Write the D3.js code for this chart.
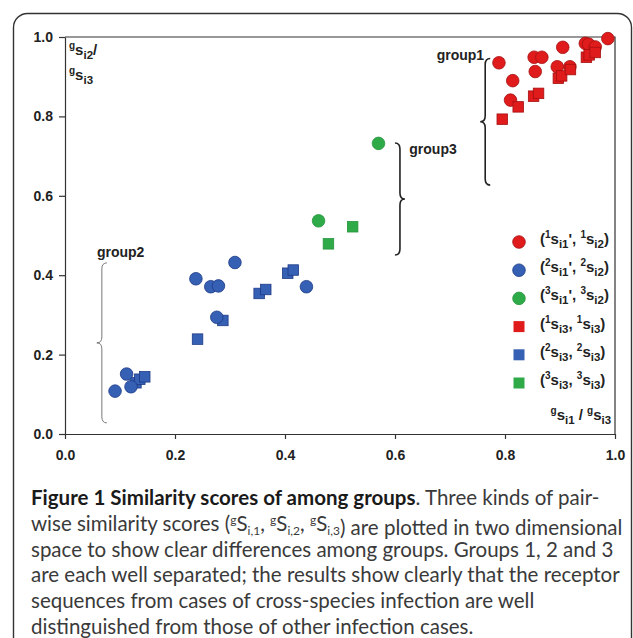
<!DOCTYPE html>
<html>
<head>
<meta charset="utf-8">
<script src="https://cdn.jsdelivr.net/npm/d3@7"></script>
<style>
  body { margin: 0; background: #fff; }
  .tick text { font-family: "Liberation Sans", Arial, sans-serif; font-weight: bold; font-size: 14px; fill: #222; }
  .lbl { font-family: "Liberation Sans", Arial, sans-serif; font-weight: bold; font-size: 14px; fill: #222; }
  .cap { font-family: Lato, "Open Sans", sans-serif; font-size: 20.5px; fill: #3a3a3a; }
</style>
</head>
<body>
<div id="chart"></div>
<script>
// Points, [x, y]
var redCircles = [[0.789, 0.935], [0.814, 0.890], [0.810, 0.841], [0.853, 0.949], [0.867, 0.949],
  [0.855, 0.913], [0.905, 0.974], [0.895, 0.925], [0.918, 0.925], [0.946, 0.984],
  [0.952, 0.982], [0.964, 0.975], [0.987, 0.996]];
var blueCircles = [[0.091, 0.108], [0.112, 0.151], [0.120, 0.119], [0.238, 0.391], [0.265, 0.371],
  [0.279, 0.373], [0.309, 0.432], [0.276, 0.294], [0.439, 0.371]];
var greenCircles = [[0.570, 0.732], [0.461, 0.537]];
var redSquares = [[0.795, 0.793], [0.824, 0.824], [0.852, 0.851], [0.861, 0.858], [0.897, 0.896],
  [0.903, 0.902], [0.919, 0.918], [0.948, 0.949], [0.953, 0.955], [0.964, 0.961]];
var blueSquares = [[0.129, 0.129], [0.136, 0.138], [0.145, 0.144], [0.241, 0.239], [0.287, 0.286],
  [0.353, 0.354], [0.365, 0.364], [0.405, 0.405], [0.415, 0.413]];
var greenSquares = [[0.479, 0.479], [0.523, 0.522]];

var xTicks = [0, 0.2, 0.4, 0.6, 0.8, 1.0];
var yTicks = [0, 0.2, 0.4, 0.6, 0.8, 1.0];

// legend rows: group number, shape, subscripts
var legendRows = [
  {g: "1", shape: "circle", a: "i1", b: "i2", sep: "',"},
  {g: "2", shape: "circle", a: "i1", b: "i2", sep: "',"},
  {g: "3", shape: "circle", a: "i1", b: "i2", sep: "',"},
  {g: "1", shape: "square", a: "i3", b: "i3", sep: ","},
  {g: "2", shape: "square", a: "i3", b: "i3", sep: ","},
  {g: "3", shape: "square", a: "i3", b: "i3", sep: ","}
];

// group braces: label, x, y top, y bottom (data units)
var braces = [
  {name: "group1", x: 0.764, y1: 0.946, y2: 0.627, dir: -1},
  {name: "group3", x: 0.609, y1: 0.733, y2: 0.451, dir: 1},
  {name: "group2", x: 0.067, y1: 0.431, y2: 0.028, dir: -1}
];

var captionBold = "Figure 1 Similarity scores of among groups";
var captionLines = [
  ". Three kinds of pair-",
  "wise similarity scores (",
  "space to show clear differences among groups. Groups 1, 2 and 3",
  "are each well separated; the results show clearly that the receptor",
  "sequences from cases of cross-species infection are well",
  "distinguished from those of other infection cases."
];

var colors = {
  "1": {fill: "#e01b1c", stroke: "#a50f10"},
  "2": {fill: "#3660b4", stroke: "#1c3a86"},
  "3": {fill: "#2eaa48", stroke: "#27953e"}
};

var W = 633, H = 638;
var margin = {left: 65, right: 18, top: 37, bottom: 204};

var svg = d3.select("#chart").append("svg")
  .attr("width", W).attr("height", H);

// outer frame
svg.append("rect")
  .attr("x", 13.5).attr("y", 13.5)
  .attr("width", 618).attr("height", 700)
  .attr("rx", 14)
  .attr("fill", "none").attr("stroke", "#333").attr("stroke-width", 1.4);

var x = d3.scaleLinear().domain([0, 1]).range([margin.left, W - margin.right]);
var y = d3.scaleLinear().domain([0, 1]).range([H - margin.bottom, margin.top]);

// box top / right
svg.append("path")
  .attr("d", "M" + x(0) + "," + y(1) + "H" + x(1) + "V" + y(0))
  .attr("fill", "none").attr("stroke", "#333").attr("stroke-width", 1.2);

var gx = svg.append("g")
  .attr("transform", "translate(0," + y(0) + ")")
  .call(d3.axisBottom(x).tickValues(xTicks).tickFormat(d3.format(".1f")).tickSize(5).tickSizeOuter(0));
gx.selectAll("text").attr("dy", "1.3em");

var gy = svg.append("g")
  .attr("transform", "translate(" + x(0) + ",0)")
  .call(d3.axisLeft(y).tickValues(yTicks).tickFormat(d3.format(".1f")).tickSize(6).tickSizeOuter(0));
gy.selectAll("text").attr("x", -12);

svg.selectAll(".domain, .tick line").attr("stroke", "#333").attr("stroke-width", 1.2);

// text with super/subscripts
function richText(sel, parts) {
  var lev = {n: 0, sup: -6, sub: 4};
  var prev = 0;
  parts.forEach(function(p) {
    var l = lev[p.s || "n"];
    var t = sel.append("tspan").attr("dy", l - prev).text(p.t);
    if (p.s) t.style("font-size", p.s == "sup" ? "10px" : "11.5px");
    prev = l;
  });
}

// axis titles
var yt1 = svg.append("text").attr("class", "lbl").attr("x", x(0) + 4).attr("y", y(0.955))
  .style("font-size", "15px");
richText(yt1, [{t: "g", s: "sup"}, {t: "s"}, {t: "i2", s: "sub"}, {t: "/"}]);
var yt2 = svg.append("text").attr("class", "lbl").attr("x", x(0) + 4).attr("y", y(0.892))
  .style("font-size", "15px");
richText(yt2, [{t: "g", s: "sup"}, {t: "s"}, {t: "i3", s: "sub"}]);
var xt = svg.append("text").attr("class", "lbl").attr("x", x(0.993)).attr("y", y(0.035))
  .attr("text-anchor", "end").style("font-size", "15px");
richText(xt, [{t: "g", s: "sup"}, {t: "s"}, {t: "i1", s: "sub"}, {t: " / "}, {t: "g", s: "sup"}, {t: "s"}, {t: "i3", s: "sub"}]);

// braces
function bracePath(b) {
  var bx = x(b.x), ya = y(b.y1), yb = y(b.y2), ym = (ya + yb) / 2;
  var w = 5, r = 6, d = b.dir;
  return "M" + (bx - d * w) + "," + ya +
    "Q" + bx + "," + ya + " " + bx + "," + (ya + r) +
    "L" + bx + "," + (ym - r) +
    "Q" + bx + "," + ym + " " + (bx + d * w) + "," + ym +
    "Q" + bx + "," + ym + " " + bx + "," + (ym + r) +
    "L" + bx + "," + (yb - r) +
    "Q" + bx + "," + yb + " " + (bx - d * w) + "," + yb;
}
svg.selectAll(".brace").data(braces).enter().append("path")
  .attr("class", "brace")
  .attr("d", bracePath)
  .attr("fill", "none")
  .attr("stroke", function(d) { return d.name == "group2" ? "#777" : "#222"; })
  .attr("stroke-width", function(d) { return d.name == "group2" ? 1 : 1.6; });

svg.append("text").attr("class", "lbl").attr("x", x(0.762)).attr("y", y(0.942))
  .attr("text-anchor", "end").text("group1");
svg.append("text").attr("class", "lbl").attr("x", x(0.626)).attr("y", y(0.705)).text("group3");
svg.append("text").attr("class", "lbl").attr("x", x(0.058)).attr("y", y(0.445)).text("group2");

// points
function drawCircles(data, g) {
  svg.selectAll(null).data(data).enter().append("circle")
    .attr("cx", function(d) { return x(d[0]); })
    .attr("cy", function(d) { return y(d[1]); })
    .attr("r", 6.3)
    .attr("fill", colors[g].fill).attr("stroke", colors[g].stroke).attr("stroke-width", 0.8);
}
function drawSquares(data, g) {
  var s = 10.5;
  svg.selectAll(null).data(data).enter().append("rect")
    .attr("x", function(d) { return x(d[0]) - s / 2; })
    .attr("y", function(d) { return y(d[1]) - s / 2; })
    .attr("width", s).attr("height", s)
    .attr("fill", colors[g].fill).attr("stroke", colors[g].stroke).attr("stroke-width", 0.8);
}
drawSquares(blueSquares, "2");
drawCircles(blueCircles, "2");
drawSquares(greenSquares, "3");
drawCircles(greenCircles, "3");
drawCircles(redCircles, "1");
drawSquares(redSquares, "1");

// legend
var ly = d3.scalePoint().domain(d3.range(legendRows.length)).range([242, 383]);
var leg = svg.selectAll(".leg").data(legendRows).enter().append("g")
  .attr("class", "leg")
  .attr("transform", function(d, i) { return "translate(519," + ly(i) + ")"; });
leg.each(function(d) {
  var g = d3.select(this);
  if (d.shape == "circle") {
    g.append("circle").attr("r", 6.3).attr("fill", colors[d.g].fill).attr("stroke", colors[d.g].stroke).attr("stroke-width", 0.8);
  } else {
    g.append("rect").attr("x", -5.5).attr("y", -5.5).attr("width", 11).attr("height", 11)
      .attr("fill", colors[d.g].fill);
  }
  var t = g.append("text").attr("class", "lbl").attr("x", 21).attr("y", 2).style("font-size", "15px");
  richText(t, [{t: "("}, {t: d.g, s: "sup"}, {t: "s"}, {t: d.a, s: "sub"}, {t: d.sep},
    {t: " "}, {t: d.g, s: "sup"}, {t: "s"}, {t: d.b, s: "sub"}, {t: ")"}]);
});

// caption
var capY = d3.scalePoint().domain(d3.range(6)).range([505, 634]);
var c0 = svg.append("text").attr("class", "cap").attr("x", 31).attr("y", capY(0));
c0.append("tspan").style("font-weight", "bold").attr("fill", "#1a1a1a").text(captionBold);
c0.append("tspan").text(captionLines[0]);

var c1 = svg.append("text").attr("class", "cap").attr("x", 31).attr("y", capY(1));
c1.append("tspan").text(captionLines[1]);
["1", "2", "3"].forEach(function(k, i) {
  c1.append("tspan").attr("dy", -7).style("font-size", "12px").text("g");
  c1.append("tspan").attr("dy", 7).text("S");
  c1.append("tspan").attr("dy", 4).style("font-size", "12px").text("i," + k);
  c1.append("tspan").attr("dy", -4).text(i < 2 ? ", " : "");
});
c1.append("tspan").text(") are plotted in two dimensional");

for (var i = 2; i < captionLines.length; i++) {
  svg.append("text").attr("class", "cap").attr("x", 31).attr("y", capY(i)).text(captionLines[i]);
}
</script>
</body>
</html>
